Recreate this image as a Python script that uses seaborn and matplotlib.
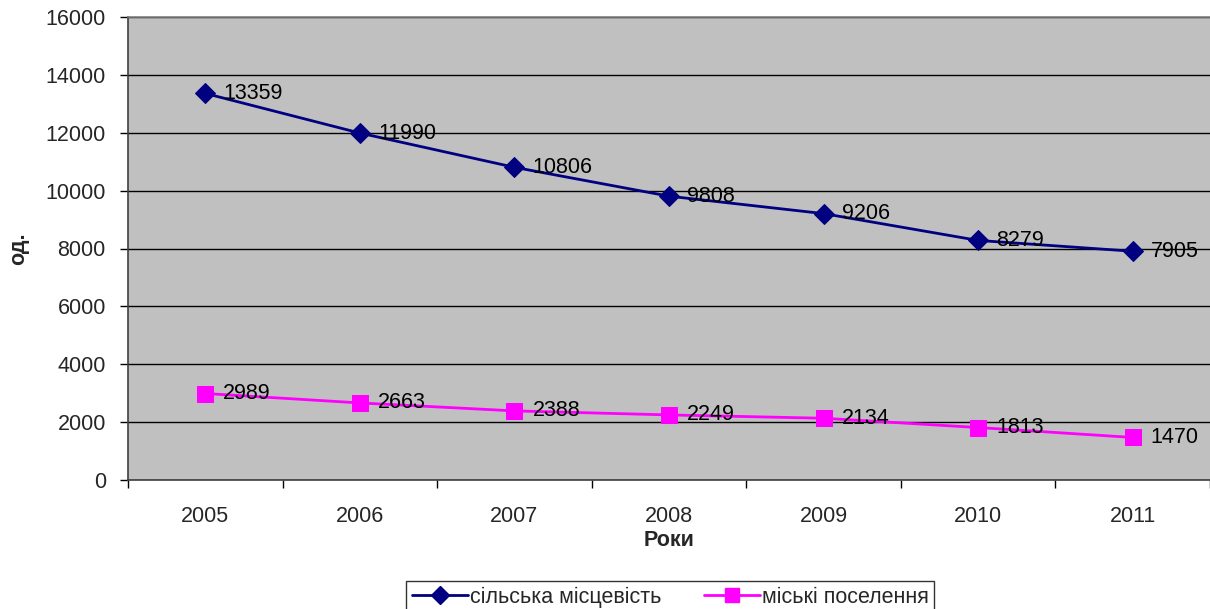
import matplotlib
matplotlib.use("Agg")
import matplotlib.pyplot as plt
import seaborn as sns
import pandas as pd
from matplotlib.lines import Line2D
from matplotlib.ticker import FixedLocator

years = ["2005", "2006", "2007", "2008", "2009", "2010", "2011"]
rural = [13359, 11990, 10806, 9808, 9206, 8279, 7905]
urban = [2989, 2663, 2388, 2249, 2134, 1813, 1470]
series_names = ["сільська місцевість", "міські поселення"]
y_ticks = [0, 2000, 4000, 6000, 8000, 10000, 12000, 14000, 16000]

sns.set_theme(style="white")
plt.rcParams["font.family"] = ["Liberation Sans", "DejaVu Sans"]

df = pd.DataFrame({
    "pos": list(range(len(years))) * 2,
    "value": rural + urban,
    "series": [series_names[0]] * len(years) + [series_names[1]] * len(years),
})

colors = {series_names[0]: "#000080", series_names[1]: "#FF00FF"}
markers = {series_names[0]: "D", series_names[1]: "s"}
msizes = {series_names[0]: 10.5, series_names[1]: 11.5}

fig = plt.figure(figsize=(12.1, 6.09), dpi=100)
ax = fig.add_axes([128 / 1210, 1 - 480 / 609, 1 - 128 / 1210, (480 - 17) / 609])
ax.set_facecolor("#C0C0C0")

for name in series_names:
    sub = df[df["series"] == name]
    sns.lineplot(data=sub, x="pos", y="value", ax=ax, color=colors[name],
                 marker=markers[name], markersize=msizes[name],
                 markeredgecolor=colors[name], linewidth=2, legend=False)
    for x, v in zip(sub["pos"], sub["value"]):
        ax.annotate(str(v), (x, v), xytext=(13, 0), textcoords="offset points",
                    ha="left", va="center", fontsize=15.5, color="black")

ax.set_xlim(-0.5, len(years) - 0.5)
ax.set_ylim(0, 16000)
ax.set_yticks(y_ticks)
ax.set_yticklabels([str(t) for t in y_ticks])
ax.set_xticks(range(len(years)))
ax.set_xticklabels(years)
ax.xaxis.set_minor_locator(FixedLocator([i - 0.5 for i in range(len(years) + 1)]))
ax.tick_params(axis="x", which="major", length=0, pad=19, labelsize=15.5)
ax.tick_params(axis="x", which="minor", length=6, width=1, color="black", direction="out", bottom=True)
ax.tick_params(axis="y", which="major", length=6, width=1, color="black", direction="out",
               left=True, pad=10, labelsize=15.5)
ax.yaxis.grid(True, color="black", linewidth=1)
ax.xaxis.grid(False)
ax.set_axisbelow(True)

for s in ["left", "bottom"]:
    ax.spines[s].set_color("#404040")
    ax.spines[s].set_linewidth(1.2)
ax.spines["top"].set_color("#808080")
ax.spines["top"].set_linewidth(1.2)
ax.spines["right"].set_visible(False)

ax.set_xlabel("Роки", fontsize=15.5, fontweight="bold", labelpad=2)
ax.set_ylabel("од.", fontsize=15.5, fontweight="bold", labelpad=12)

handles = [Line2D([0], [0], color=colors[n], marker=markers[n], markersize=msizes[n] - 1,
                  markeredgecolor=colors[n], linewidth=2) for n in series_names]
leg = fig.legend(handles, series_names, loc="upper center", bbox_to_anchor=(0.554, 1 - 581 / 609),
                 ncol=2, fontsize=15.5, frameon=True, fancybox=False, handlelength=2.6,
                 columnspacing=2.0, handletextpad=0.1, borderpad=0.25, borderaxespad=0)
leg.get_frame().set_edgecolor("black")
leg.get_frame().set_linewidth(1)

fig.savefig("out.png", dpi=100)
